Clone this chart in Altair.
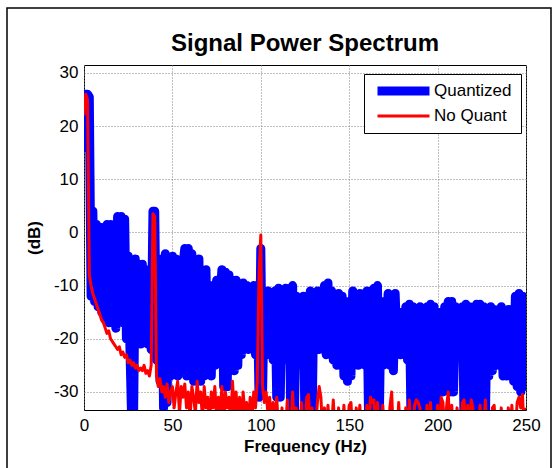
import altair as alt
import pandas as pd

freq = list(range(0, 251))

quantized = [
    16, 26, 26, 25.5, -12, 4, -13, 1.5, -14, 1,
    -15, -3, -16, 1.5, -17, 1.5, -14, -5, -18, 3,
    -15, 3, -17, 2.5, -20, -4.5, -22, -36, -36, -5,
    -20, -6, -21, -6, -19, -7, -21, -8, -22, 4,
    4, -24, -5, -28, -5, -33, -4, -32, -5, -27,
    -4.5, -26, -5, -27, -9, -26, -6, -3, -27, -3,
    -26, -4, -28, -6, -25, -5, -28, -8, -27, -7,
    -26, -10, -27, -10, -25, -9, -24, -12, -7, -29,
    -7.5, -29, -8, -25, -9, -26, -9, -25, -10, -23,
    -9.5, -21, -10, -22, -11, -20, -10, -23, -11, -31,
    -3, -30, -11, -22, -11, -23, -12, -24, -11, -31,
    -10.5, -31, -11, -23, -10.5, -24, -12, -36, -10, -36,
    -12, -23, -13, -25, -12, -36, -14, -36, -11, -36,
    -12, -21, -11, -22, -12, -21, -10, -23, -9.5, -22,
    -11, -24, -12, -25, -11.5, -23, -12, -27, -13, -28,
    -14, -27, -11, -24, -12, -25, -11.5, -24, -12.5, -25,
    -11, -36, -12, -36, -10.5, -35, -10, -36, -13, -25,
    -14, -24, -11.5, -25, -12, -26, -11.5, -22, -15, -23,
    -15, -22, -14, -24, -13.5, -36, -14, -36, -17, -36,
    -14, -36, -14.5, -36, -14, -36, -13.5, -36, -14, -36,
    -15, -29, -15, -30, -14, -29, -13, -30, -13, -30,
    -14, -21, -15, -22, -14, -36, -13.5, -36, -14, -36,
    -15, -36, -13.5, -36, -13.5, -36, -14, -36, -14.5, -27,
    -14, -26, -14.5, -24, -15, -25, -14, -27, -15, -27,
    -14.5, -24, -15, -28, -12, -29, -11.5, -30, -12, -29,
    -17,
]

no_quant = [
    22, 26, 25, -8, -10, -11.5, -12.5, -13.5, -14.5, -15.5,
    -16.5, -17, -18, -19, -18.5, -20, -20.5, -21, -21.5, -22,
    -21.5, -23, -22.5, -23.5, -23, -24.5, -24, -25, -24.5, -25.5,
    -25, -26, -25.5, -26, -25, -26.5, -26, -27, -25, 3.5,
    3, -27, -29, -27.5, -30, -29, -31, -28.5, -32, -30,
    -29, -33, -30, -28, -34, -29, -31, -28.5, -33, -30,
    -35, -29, -31, -34, -28, -32, -30, -35, -29, -33,
    -31, -36, -30, -33, -29, -35, -31, -34, -29, -36,
    -30, -33, -31, -36, -28, -34, -30, -35, -31, -36,
    -30, -34, -32, -36, -31, -35, -30, -33, -28, -8,
    -0.5, -29, -32, -30, -34, -31, -35, -32, -36, -31,
    -37, -37, -33, -38, -37, -31.5, -38, -37, -30, -38,
    -33, -38, -37, -32, -38, -37, -31, -30.5, -38, -33,
    -38, -37, -32, -29, -31, -38, -33, -38, -32.5, -38,
    -37, -31.5, -38, -37, -33, -38, -38, -32.5, -38, -37,
    -32.5, -32, -38, -37, -33, -38, -32.5, -38, -37, -38,
    -32.5, -38, -31, -32, -31.5, -38, -32, -37, -38, -32.5,
    -38, -37, -38, -33, -30, -38, -37, -38, -32, -38,
    -37, -38, -33, -38, -31.5, -38, -37, -32.5, -31.5, -32,
    -33, -38, -37, -38, -32.5, -38, -32, -38, -37, -38,
    -32.5, -38, -31, -32, -38, -33, -30, -38, -32.5, -38,
    -37, -33, -38, -37, -32, -31.5, -38, -32.5, -38, -31.5,
    -33, -38, -37, -38, -32.5, -38, -37, -31.5, -38, -37,
    -38, -33, -32.5, -38, -37, -38, -33, -38, -37, -38,
    -33, -38, -32.5, -38, -37, -32, -31, -33, -30.5, -38,
    -33,
]

series_names = ["Quantized", "No Quant"]
series_colors = ["#0000ff", "#ff0000"]
series_widths = [9, 3]
x_ticks = [0, 50, 100, 150, 200, 250]
y_ticks = [-30, -20, -10, 0, 10, 20, 30]

n = min(len(freq), len(quantized), len(no_quant))
df = pd.DataFrame({
    "f": freq[:n] + freq[:n],
    "db": quantized[:n] + no_quant[:n],
    "series": [series_names[0]] * n + [series_names[1]] * n,
})

FONT = "Liberation Sans"

x_enc = alt.X("f:Q", scale=alt.Scale(domain=[0, 250], nice=False, zero=False),
              axis=alt.Axis(values=x_ticks, title="Frequency (Hz)", labelPadding=7,
                            titlePadding=5, labelFlush=False,
                            labelExpr="datum.value + ''"))
y_enc = alt.Y("db:Q", scale=alt.Scale(domain=[-33.4, 31.5], nice=False, zero=False),
              axis=alt.Axis(values=y_ticks, title="(dB)", labelPadding=6, titlePadding=10,
                            labelFlush=False, labelExpr="datum.value + ''"))
color_enc = alt.Color("series:N", scale=alt.Scale(domain=series_names, range=series_colors),
                      legend=alt.Legend(title=None))
width_enc = alt.StrokeWidth("series:N", scale=alt.Scale(domain=series_names, range=series_widths),
                            legend=alt.Legend(title=None))

base = alt.Chart(df)

blue = base.transform_filter(alt.datum.series == series_names[0]).mark_line(
    clip=True, strokeCap="round", strokeJoin="round"
).encode(x=x_enc, y=y_enc, color=color_enc, strokeWidth=width_enc)

red = base.transform_filter(alt.datum.series == series_names[1]).mark_line(
    clip=True, strokeJoin="round"
).encode(x=x_enc, y=y_enc, color=color_enc, strokeWidth=width_enc)

frame = alt.Chart(pd.DataFrame({"k": [0]})).mark_rect(
    fill=None, stroke="black", strokeWidth=1.5, clip=False
).encode(x=alt.value(-77), x2=alt.value(467), y=alt.value(-57), y2=alt.value(412))

chart = alt.layer(frame, blue, red).properties(
    width=442, height=345,
    title=alt.TitleParams("Signal Power Spectrum", font=FONT, fontSize=24, fontWeight="bold",
                          anchor="middle", frame="group", offset=-68, baseline="alphabetic",
                          color="black"),
    autosize=alt.AutoSizeParams(type="none"),
    padding={"left": 84, "top": 65, "right": 30, "bottom": 58},
    background="white",
).configure_view(
    stroke="black", strokeWidth=1
).configure_axis(
    labelFont=FONT, labelFontSize=17, labelColor="black",
    titleFont=FONT, titleFontSize=17, titleFontWeight="bold", titleColor="black",
    grid=True, gridColor="#808080", gridDash=[1, 2], gridWidth=1, gridOpacity=1,
    ticks=False, domain=False,
).configure_legend(
    orient="none", legendX=280, legendY=9,
    strokeColor="black", fillColor="white", padding=9,
    symbolType="stroke", symbolSize=2704, clipHeight=16, rowPadding=8,
    labelFont=FONT, labelFontSize=17, labelColor="black", labelOffset=0,
    symbolOpacity=1,
)

chart.save("out.html", embed_options={"renderer": "svg", "actions": False})
